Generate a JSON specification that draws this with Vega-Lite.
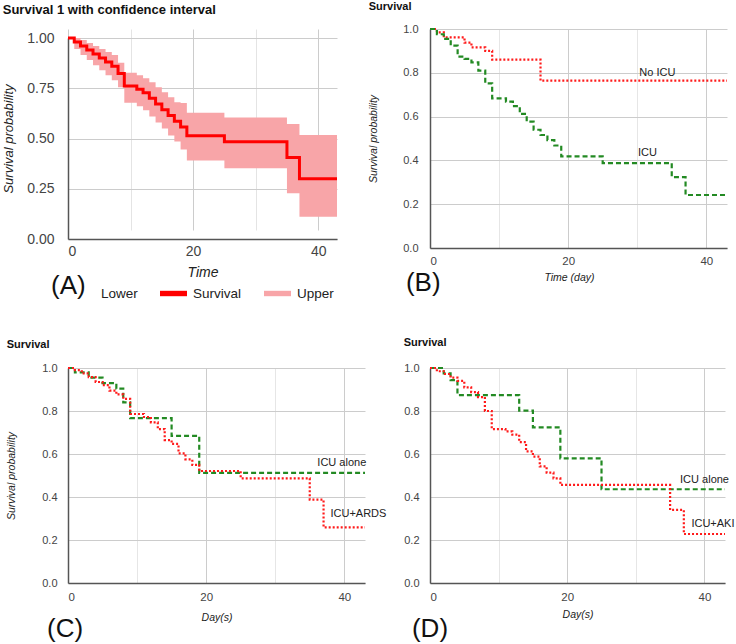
{
  "$schema": "https://vega.github.io/schema/vega-lite/v6.json",
  "padding": {"left": 2, "top": 1, "right": 0, "bottom": 0},
  "background": "white",
  "columns": 2,
  "spacing": {"column": 65, "row": 120},
  "bounds": "flush",
  "resolve": {"scale": {"color": "independent", "strokeDash": "independent"}, "legend": {"color": "independent", "strokeDash": "independent"}},
  "datasets": {
    "overall": [
      {"t": 0, "s": 1.0, "lo": 1.0, "hi": 1.0},
      {"t": 1, "s": 0.98, "lo": 0.945, "hi": 1.0},
      {"t": 2, "s": 0.96, "lo": 0.915, "hi": 0.99},
      {"t": 3, "s": 0.94, "lo": 0.89, "hi": 0.975},
      {"t": 4, "s": 0.92, "lo": 0.865, "hi": 0.96},
      {"t": 5, "s": 0.9, "lo": 0.84, "hi": 0.945},
      {"t": 6, "s": 0.88, "lo": 0.815, "hi": 0.93},
      {"t": 7, "s": 0.86, "lo": 0.79, "hi": 0.915},
      {"t": 8, "s": 0.824, "lo": 0.755, "hi": 0.877},
      {"t": 9, "s": 0.761, "lo": 0.678, "hi": 0.827},
      {"t": 11, "s": 0.745, "lo": 0.66, "hi": 0.815},
      {"t": 12, "s": 0.728, "lo": 0.64, "hi": 0.8},
      {"t": 13, "s": 0.7, "lo": 0.61, "hi": 0.78},
      {"t": 14, "s": 0.672, "lo": 0.58, "hi": 0.755},
      {"t": 15, "s": 0.643, "lo": 0.55, "hi": 0.73},
      {"t": 16, "s": 0.614, "lo": 0.515, "hi": 0.705},
      {"t": 17, "s": 0.586, "lo": 0.485, "hi": 0.68},
      {"t": 18, "s": 0.557, "lo": 0.445, "hi": 0.676},
      {"t": 19, "s": 0.514, "lo": 0.39, "hi": 0.628},
      {"t": 25, "s": 0.484, "lo": 0.352, "hi": 0.605},
      {"t": 35, "s": 0.406, "lo": 0.227, "hi": 0.572},
      {"t": 37, "s": 0.3, "lo": 0.111, "hi": 0.517},
      {"t": 43, "s": 0.3, "lo": 0.111, "hi": 0.517}
    ],
    "icu": [
      {"g": "No ICU", "t": 0, "s": 1.0},
      {"g": "No ICU", "t": 1, "s": 0.985},
      {"g": "No ICU", "t": 2, "s": 0.962},
      {"g": "No ICU", "t": 5, "s": 0.938},
      {"g": "No ICU", "t": 6, "s": 0.916},
      {"g": "No ICU", "t": 8, "s": 0.9},
      {"g": "No ICU", "t": 9, "s": 0.86},
      {"g": "No ICU", "t": 16, "s": 0.764},
      {"g": "No ICU", "t": 43, "s": 0.764},
      {"g": "ICU", "t": 0, "s": 1.0},
      {"g": "ICU", "t": 1, "s": 0.976},
      {"g": "ICU", "t": 2, "s": 0.955},
      {"g": "ICU", "t": 3, "s": 0.924},
      {"g": "ICU", "t": 4, "s": 0.874},
      {"g": "ICU", "t": 5, "s": 0.864},
      {"g": "ICU", "t": 6, "s": 0.848},
      {"g": "ICU", "t": 7, "s": 0.81},
      {"g": "ICU", "t": 8, "s": 0.752},
      {"g": "ICU", "t": 9, "s": 0.683},
      {"g": "ICU", "t": 11, "s": 0.668},
      {"g": "ICU", "t": 12, "s": 0.648},
      {"g": "ICU", "t": 13, "s": 0.612},
      {"g": "ICU", "t": 14, "s": 0.577},
      {"g": "ICU", "t": 15, "s": 0.54},
      {"g": "ICU", "t": 16, "s": 0.516},
      {"g": "ICU", "t": 17, "s": 0.493},
      {"g": "ICU", "t": 18, "s": 0.468},
      {"g": "ICU", "t": 19, "s": 0.418},
      {"g": "ICU", "t": 25, "s": 0.388},
      {"g": "ICU", "t": 35, "s": 0.324},
      {"g": "ICU", "t": 37, "s": 0.242},
      {"g": "ICU", "t": 43, "s": 0.242}
    ],
    "ards": [
      {"g": "ICU alone", "t": 0, "s": 1.0},
      {"g": "ICU alone", "t": 1, "s": 0.98},
      {"g": "ICU alone", "t": 3, "s": 0.955},
      {"g": "ICU alone", "t": 5, "s": 0.93},
      {"g": "ICU alone", "t": 7, "s": 0.904},
      {"g": "ICU alone", "t": 8, "s": 0.84},
      {"g": "ICU alone", "t": 9, "s": 0.767},
      {"g": "ICU alone", "t": 15, "s": 0.684},
      {"g": "ICU alone", "t": 19, "s": 0.512},
      {"g": "ICU alone", "t": 43, "s": 0.512},
      {"g": "ICU+ARDS", "t": 0, "s": 1.0},
      {"g": "ICU+ARDS", "t": 1, "s": 0.99},
      {"g": "ICU+ARDS", "t": 2, "s": 0.975},
      {"g": "ICU+ARDS", "t": 3, "s": 0.958},
      {"g": "ICU+ARDS", "t": 4, "s": 0.935},
      {"g": "ICU+ARDS", "t": 5, "s": 0.92},
      {"g": "ICU+ARDS", "t": 6, "s": 0.895},
      {"g": "ICU+ARDS", "t": 7, "s": 0.877},
      {"g": "ICU+ARDS", "t": 8, "s": 0.856},
      {"g": "ICU+ARDS", "t": 9, "s": 0.786},
      {"g": "ICU+ARDS", "t": 11, "s": 0.772},
      {"g": "ICU+ARDS", "t": 12, "s": 0.747},
      {"g": "ICU+ARDS", "t": 13, "s": 0.716},
      {"g": "ICU+ARDS", "t": 14, "s": 0.665},
      {"g": "ICU+ARDS", "t": 15, "s": 0.647},
      {"g": "ICU+ARDS", "t": 16, "s": 0.603},
      {"g": "ICU+ARDS", "t": 17, "s": 0.575},
      {"g": "ICU+ARDS", "t": 18, "s": 0.549},
      {"g": "ICU+ARDS", "t": 19, "s": 0.521},
      {"g": "ICU+ARDS", "t": 25, "s": 0.487},
      {"g": "ICU+ARDS", "t": 35, "s": 0.388},
      {"g": "ICU+ARDS", "t": 37, "s": 0.259},
      {"g": "ICU+ARDS", "t": 43, "s": 0.259}
    ],
    "aki": [
      {"g": "ICU alone", "t": 0, "s": 1.0},
      {"g": "ICU alone", "t": 2, "s": 0.975},
      {"g": "ICU alone", "t": 3, "s": 0.944},
      {"g": "ICU alone", "t": 4, "s": 0.874},
      {"g": "ICU alone", "t": 13, "s": 0.802},
      {"g": "ICU alone", "t": 15, "s": 0.724},
      {"g": "ICU alone", "t": 19, "s": 0.58},
      {"g": "ICU alone", "t": 25, "s": 0.436},
      {"g": "ICU alone", "t": 43, "s": 0.436},
      {"g": "ICU+AKI", "t": 0, "s": 1.0},
      {"g": "ICU+AKI", "t": 1, "s": 0.985},
      {"g": "ICU+AKI", "t": 2, "s": 0.972},
      {"g": "ICU+AKI", "t": 3, "s": 0.955},
      {"g": "ICU+AKI", "t": 4, "s": 0.94},
      {"g": "ICU+AKI", "t": 5, "s": 0.91},
      {"g": "ICU+AKI", "t": 6, "s": 0.888},
      {"g": "ICU+AKI", "t": 7, "s": 0.865},
      {"g": "ICU+AKI", "t": 8, "s": 0.8},
      {"g": "ICU+AKI", "t": 9, "s": 0.716},
      {"g": "ICU+AKI", "t": 11, "s": 0.705},
      {"g": "ICU+AKI", "t": 12, "s": 0.69},
      {"g": "ICU+AKI", "t": 13, "s": 0.655},
      {"g": "ICU+AKI", "t": 14, "s": 0.612},
      {"g": "ICU+AKI", "t": 15, "s": 0.588},
      {"g": "ICU+AKI", "t": 16, "s": 0.542},
      {"g": "ICU+AKI", "t": 17, "s": 0.513},
      {"g": "ICU+AKI", "t": 18, "s": 0.487},
      {"g": "ICU+AKI", "t": 19, "s": 0.456},
      {"g": "ICU+AKI", "t": 35, "s": 0.34},
      {"g": "ICU+AKI", "t": 37, "s": 0.228},
      {"g": "ICU+AKI", "t": 43, "s": 0.228}
    ],
    "lineLabels": [
      {"p": "B", "label": "No ICU", "t": 30.3, "s": 0.8},
      {"p": "B", "label": "ICU", "t": 30.1, "s": 0.432},
      {"p": "C", "label": "ICU alone", "t": 36.1, "s": 0.558},
      {"p": "C", "label": "ICU+ARDS", "t": 38.0, "s": 0.321},
      {"p": "D", "label": "ICU alone", "t": 36.45, "s": 0.479},
      {"p": "D", "label": "ICU+AKI", "t": 38.1, "s": 0.274}
    ],
    "panelLabels": [
      {"p": "A", "label": "(A)", "t": -2.7, "s": -0.234},
      {"p": "B", "label": "(B)", "t": -3.48, "s": -0.158},
      {"p": "C", "label": "(C)", "t": -3.04, "s": -0.214},
      {"p": "D", "label": "(D)", "t": -2.63, "s": -0.215}
    ]
  },
  "concat": [
    {
      "width": 269,
      "height": 210,
      "title": {"text": "Survival 1 with confidence interval", "anchor": "start", "fontSize": 13, "fontWeight": "bold", "color": "#111", "offset": 12},
      "layer": [
        {
          "data": {"name": "overall"},
          "mark": {"type": "area", "interpolate": "step-after", "opacity": 1},
          "encoding": {
            "x": {"field": "t", "type": "quantitative", "scale": {"domain": [0, 43], "nice": false, "zero": false},
              "axis": {"values": [0, 10, 20, 30, 40], "labelExpr": "datum.value % 20 === 0 ? datum.label : ''", "labelFontSize": 14, "labelPadding": 5, "title": "Time", "titleFontSize": 14, "titlePadding": 7,
                "gridColor": {"condition": {"test": "datum.value % 20 === 0", "value": "#cccccc"}, "value": "#e4e4e4"}}},
            "y": {"field": "lo", "type": "quantitative", "scale": {"domain": [0, 1], "range": [210, 9], "nice": false},
              "axis": {"values": [0, 0.25, 0.5, 0.75, 1], "format": ".2f", "labelFontSize": 14, "labelPadding": 14, "title": "Survival probability", "titleFontSize": 13, "titlePadding": 11, "gridColor": "#cccccc"}},
            "y2": {"field": "hi"},
            "color": {"datum": "Upper", "type": "nominal",
              "scale": {"domain": ["Lower", "Survival", "Upper"], "range": ["transparent", "#ff0000", "#f8a5a8"]},
              "legend": {"orient": "bottom", "direction": "horizontal", "title": null, "labelFontSize": 13.5, "labelColor": "#222", "symbolSize": 729, "symbolType": "M-1,-0.2H1V0.2H-1Z", "symbolStrokeWidth": 0, "labelOffset": 6, "columnPadding": 22, "offset": 1, "padding": 0, "values": ["Lower", "Survival", "Upper"],
                "encode": {"symbols": {"update": {
                  "fill": {"signal": "datum.value === 'Survival' ? '#ff0000' : (datum.value === 'Upper' ? '#f8a5a8' : 'transparent')"},
                  "stroke": {"value": "transparent"},
                  "strokeWidth": {"value": 0},
                  "opacity": {"value": 1}}}}}}
          }
        },
        {
          "data": {"name": "overall"},
          "mark": {"type": "line", "interpolate": "step-after", "strokeWidth": 3},
          "encoding": {
            "x": {"field": "t", "type": "quantitative"},
            "y": {"field": "s", "type": "quantitative"},
            "color": {"datum": "Survival", "type": "nominal"}
          }
        },
        {
          "data": {"name": "panelLabels"},
          "transform": [{"filter": "datum.p === 'A'"}],
          "mark": {"type": "text", "align": "left", "baseline": "middle", "fontSize": 26, "color": "#111"},
          "encoding": {
            "x": {"field": "t", "type": "quantitative"},
            "y": {"field": "s", "type": "quantitative"},
            "text": {"field": "label"}
          }
        }
      ]
    },
    {
      "width": 297,
      "height": 219,
      "title": {"text": "Survival", "anchor": "start", "fontSize": 11, "fontWeight": "bold", "color": "#111", "offset": 11},
      "layer": [
        {
          "data": {"name": "icu"},
          "mark": {"type": "line", "interpolate": "step-after", "strokeWidth": 2.2},
          "encoding": {
            "x": {"field": "t", "type": "quantitative", "scale": {"domain": [0, 43], "nice": false, "zero": false},
              "axis": {"values": [0, 10, 20, 30, 40], "labelExpr": "datum.value % 20 === 0 ? datum.label : ''", "labelFontSize": 11.5, "labelPadding": 7, "title": "Time (day)", "titleFontSize": 10.5, "titlePadding": 6, "titleX": 139,
                "gridColor": {"condition": {"test": "datum.value % 20 === 0", "value": "#cccccc"}, "value": "#e6e6e6"}}},
            "y": {"field": "s", "type": "quantitative", "scale": {"domain": [0, 1], "nice": false},
              "axis": {"values": [0, 0.1, 0.2, 0.3, 0.4, 0.5, 0.6, 0.7, 0.8, 0.9, 1.0], "labelExpr": "round(datum.value * 10) % 2 === 0 ? format(datum.value, '.1f') : ''", "labelFontSize": 11, "labelPadding": 12, "title": "Survival probability", "titleFontSize": 10.5, "titlePadding": 24,
                "gridColor": {"condition": {"test": "round(datum.value * 10) % 2 === 0", "value": "#cccccc"}, "value": "#e6e6e6"}}},
            "color": {"field": "g", "type": "nominal", "scale": {"domain": ["No ICU", "ICU"], "range": ["#ff1a1a", "#238a23"]}, "legend": null},
            "strokeDash": {"field": "g", "type": "nominal", "scale": {"domain": ["No ICU", "ICU"], "range": [[2, 2], [5, 3]]}, "legend": null}
          }
        },
        {
          "data": {"name": "lineLabels"},
          "transform": [{"filter": "datum.p === 'B'"}],
          "mark": {"type": "text", "align": "left", "baseline": "middle", "fontSize": 11, "color": "#222"},
          "encoding": {
            "x": {"field": "t", "type": "quantitative"},
            "y": {"field": "s", "type": "quantitative"},
            "text": {"field": "label"}
          }
        },
        {
          "data": {"name": "panelLabels"},
          "transform": [{"filter": "datum.p === 'B'"}],
          "mark": {"type": "text", "align": "left", "baseline": "middle", "fontSize": 26, "color": "#111"},
          "encoding": {
            "x": {"field": "t", "type": "quantitative"},
            "y": {"field": "s", "type": "quantitative"},
            "text": {"field": "label"}
          }
        }
      ]
    },
    {
      "width": 297,
      "height": 215,
      "title": {"text": "Survival", "anchor": "start", "fontSize": 11, "fontWeight": "bold", "color": "#111", "offset": 12},
      "layer": [
        {
          "data": {"name": "ards"},
          "mark": {"type": "line", "interpolate": "step-after", "strokeWidth": 2.2},
          "encoding": {
            "x": {"field": "t", "type": "quantitative", "scale": {"domain": [0, 43], "nice": false, "zero": false},
              "axis": {"values": [0, 10, 20, 30, 40], "labelExpr": "datum.value % 20 === 0 ? datum.label : ''", "labelFontSize": 11.5, "labelPadding": 8, "title": "Day(s)", "titleFontSize": 10.5, "titlePadding": 10,
                "gridColor": {"condition": {"test": "datum.value % 20 === 0", "value": "#cccccc"}, "value": "#e6e6e6"}}},
            "y": {"field": "s", "type": "quantitative", "scale": {"domain": [0, 1], "nice": false},
              "axis": {"values": [0, 0.1, 0.2, 0.3, 0.4, 0.5, 0.6, 0.7, 0.8, 0.9, 1.0], "labelExpr": "round(datum.value * 10) % 2 === 0 ? format(datum.value, '.1f') : ''", "labelFontSize": 11, "labelPadding": 11, "title": "Survival probability", "titleFontSize": 10.5, "titlePadding": 25,
                "gridColor": {"condition": {"test": "round(datum.value * 10) % 2 === 0", "value": "#cccccc"}, "value": "#e6e6e6"}}},
            "color": {"field": "g", "type": "nominal", "scale": {"domain": ["ICU+ARDS", "ICU alone"], "range": ["#ff1a1a", "#238a23"]}, "legend": null},
            "strokeDash": {"field": "g", "type": "nominal", "scale": {"domain": ["ICU+ARDS", "ICU alone"], "range": [[2, 2], [5, 3]]}, "legend": null}
          }
        },
        {
          "data": {"name": "lineLabels"},
          "transform": [{"filter": "datum.p === 'C'"}],
          "mark": {"type": "text", "align": "left", "baseline": "middle", "fontSize": 11, "color": "#222"},
          "encoding": {
            "x": {"field": "t", "type": "quantitative"},
            "y": {"field": "s", "type": "quantitative"},
            "text": {"field": "label"}
          }
        },
        {
          "data": {"name": "panelLabels"},
          "transform": [{"filter": "datum.p === 'C'"}],
          "mark": {"type": "text", "align": "left", "baseline": "middle", "fontSize": 26, "color": "#111"},
          "encoding": {
            "x": {"field": "t", "type": "quantitative"},
            "y": {"field": "s", "type": "quantitative"},
            "text": {"field": "label"}
          }
        }
      ]
    },
    {
      "width": 295,
      "height": 215,
      "title": {"text": "Survival", "anchor": "start", "fontSize": 11, "fontWeight": "bold", "color": "#111", "offset": 14},
      "layer": [
        {
          "data": {"name": "aki"},
          "mark": {"type": "line", "interpolate": "step-after", "strokeWidth": 2.2},
          "encoding": {
            "x": {"field": "t", "type": "quantitative", "scale": {"domain": [0, 43], "nice": false, "zero": false},
              "axis": {"values": [0, 10, 20, 30, 40], "labelExpr": "datum.value % 20 === 0 ? datum.label : ''", "labelFontSize": 11.5, "labelPadding": 8, "title": "Day(s)", "titleFontSize": 10.5, "titlePadding": 7,
                "gridColor": {"condition": {"test": "datum.value % 20 === 0", "value": "#cccccc"}, "value": "#e6e6e6"}}},
            "y": {"field": "s", "type": "quantitative", "scale": {"domain": [0, 1], "nice": false},
              "axis": {"values": [0, 0.1, 0.2, 0.3, 0.4, 0.5, 0.6, 0.7, 0.8, 0.9, 1.0], "labelExpr": "round(datum.value * 10) % 2 === 0 ? format(datum.value, '.1f') : ''", "labelFontSize": 11, "labelPadding": 11, "title": null,
                "gridColor": {"condition": {"test": "round(datum.value * 10) % 2 === 0", "value": "#cccccc"}, "value": "#e6e6e6"}}},
            "color": {"field": "g", "type": "nominal", "scale": {"domain": ["ICU+AKI", "ICU alone"], "range": ["#ff1a1a", "#238a23"]}, "legend": null},
            "strokeDash": {"field": "g", "type": "nominal", "scale": {"domain": ["ICU+AKI", "ICU alone"], "range": [[2, 2], [5, 3]]}, "legend": null}
          }
        },
        {
          "data": {"name": "lineLabels"},
          "transform": [{"filter": "datum.p === 'D'"}],
          "mark": {"type": "text", "align": "left", "baseline": "middle", "fontSize": 11, "color": "#222"},
          "encoding": {
            "x": {"field": "t", "type": "quantitative"},
            "y": {"field": "s", "type": "quantitative"},
            "text": {"field": "label"}
          }
        },
        {
          "data": {"name": "panelLabels"},
          "transform": [{"filter": "datum.p === 'D'"}],
          "mark": {"type": "text", "align": "left", "baseline": "middle", "fontSize": 26, "color": "#111"},
          "encoding": {
            "x": {"field": "t", "type": "quantitative"},
            "y": {"field": "s", "type": "quantitative"},
            "text": {"field": "label"}
          }
        }
      ]
    }
  ],
  "config": {
    "font": "Liberation Sans",
    "view": {"stroke": null},
    "axis": {"ticks": false, "labelColor": "#444", "titleColor": "#222", "titleFontWeight": "normal", "titleFontStyle": "italic", "domainColor": "#555", "domainWidth": 1.5, "gridWidth": 1},
    "title": {"font": "Liberation Sans"},
    "text": {"font": "Liberation Sans"},
    "legend": {"labelFont": "Liberation Sans"}
  }
}
